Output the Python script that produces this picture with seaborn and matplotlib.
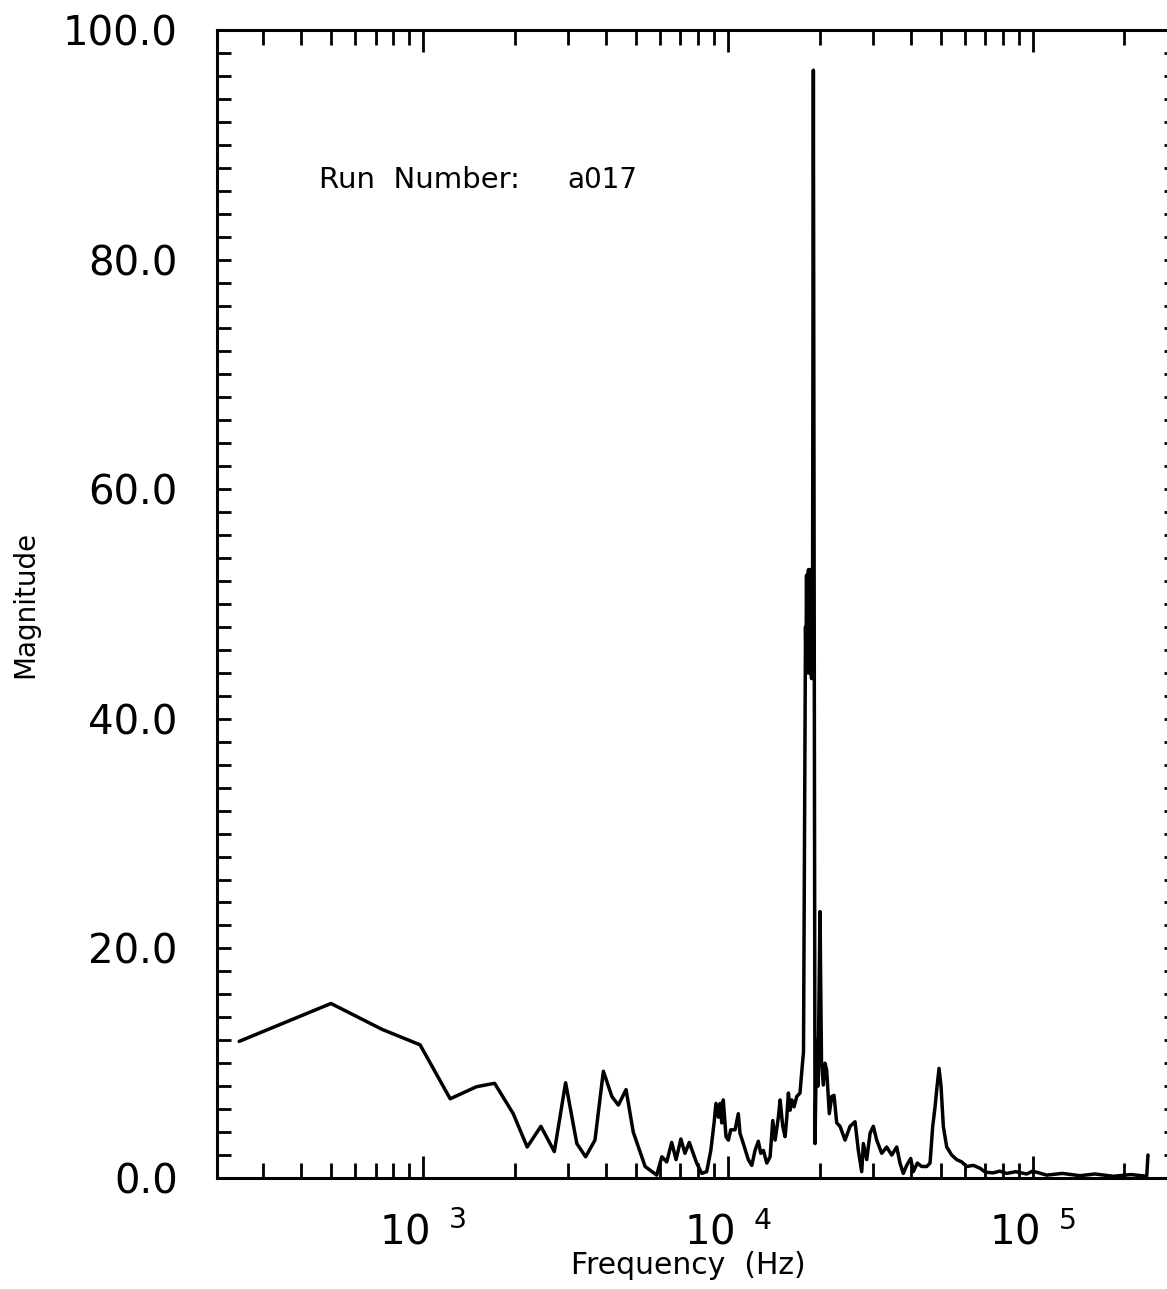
"""
Spectrum magnitude vs frequency (log x), run a017.
"""

import numpy as np
import pandas as pd
import matplotlib
matplotlib.use("Agg")
import matplotlib.pyplot as plt
import seaborn as sns
from matplotlib.ticker import (
    LogLocator, FuncFormatter, MultipleLocator, FormatStrFormatter, NullFormatter,
)

# ── Data ──────────────────────────────────────────────────────────────────────
FREQ_HZ = [
    250, 500, 735, 980, 1230, 1500, 1720, 1980, 2200, 2440,
    2700, 2940, 3200, 3420, 3670, 3910, 4170, 4380, 4640, 4900,
    5360, 5850, 6080, 6310, 6550, 6770, 7020, 7240, 7480, 7910,
    8220, 8530, 8800, 9020, 9150, 9320, 9440, 9560, 9670, 9870,
    10050, 10230, 10570, 10830, 10970, 11250, 11680, 11990, 12290, 12600,
    12830, 13090, 13430, 13770, 14050, 14300, 14660, 14850, 15150, 15420,
    15620, 15810, 16010, 16220, 16500, 16840, 17260, 17390, 17720, 17990,
    18060, 18130, 18200, 18260, 18330, 18400, 18470, 18540, 18610, 18680,
    18750, 18830, 18900, 18970, 19090, 19330, 19550,
    19770, 20070, 20300, 20580, 20840, 21110, 21530, 21930, 22310, 22770,
    23350, 24250, 25180, 26150, 26810, 27500, 27840, 28560, 29290, 30020,
    30800, 31980, 33210, 34490, 35820, 36720, 37640, 38620, 39810, 40600,
    41850, 43260, 44930, 46060, 47010, 47840, 48450, 49300, 50050, 50930,
    52240, 54250, 56340, 58510, 60770, 63870, 67180, 70000, 74270, 78000,
    82170, 88000, 95560, 100000, 111140, 125000, 142950, 160000, 183810, 210000,
    236500, 238800,
]
MAGNITUDE = [
    11.9, 15.2, 12.95, 11.6, 6.9, 7.95, 8.25, 5.6, 2.7, 4.5,
    2.3, 8.3, 3.0, 1.85, 3.3, 9.3, 7.1, 6.35, 7.7, 4.0,
    1.0, 0.25, 1.85, 1.4, 3.1, 1.6, 3.4, 2.15, 3.1, 1.3,
    0.4, 0.55, 2.4, 4.8, 6.5, 5.3, 6.5, 4.8, 6.8, 3.6,
    3.3, 4.2, 4.2, 5.6, 3.9, 3.0, 1.6, 1.1, 2.4, 3.2,
    2.15, 2.4, 1.3, 1.85, 5.0, 3.3, 5.3, 6.8, 4.5, 3.6,
    5.3, 7.4, 5.9, 6.8, 6.2, 7.1, 7.4, 8.5, 11.0, 48.0,
    44.5, 52.5, 45.5, 44.0, 52.0, 53.0, 44.0, 45.0, 53.0, 52.0,
    44.5, 43.5, 51.0, 50.0, 96.5, 3.0, 12.0,
    8.0, 23.2, 10.0, 8.1, 10.0, 9.4, 5.6, 7.1, 7.2, 4.8,
    4.5, 3.3, 4.5, 4.9, 2.4, 0.55, 3.0, 1.6, 3.9, 4.5,
    3.3, 2.15, 2.7, 2.0, 2.7, 1.3, 0.4, 1.1, 1.7, 0.55,
    1.3, 1.0, 1.0, 1.3, 4.5, 6.2, 7.7, 9.55, 8.0, 4.5,
    2.7, 2.0, 1.6, 1.4, 1.0, 1.1, 0.85, 0.5, 0.45, 0.6,
    0.4, 0.55, 0.35, 0.6, 0.25, 0.4, 0.2, 0.35, 0.15, 0.3,
    0.15, 2.0,
]
RUN_LABEL = "Run  Number:"
RUN_ID = "a017"

# ── Figure ─────────────────────────────────────────────────────────────────────
W, H = 1167, 1289
sns.set_style("ticks")
plt.rcParams["font.family"] = ["DejaVu Sans"]
plt.rcParams.update({"text.color": "black", "axes.labelcolor": "black",
                     "xtick.color": "black", "ytick.color": "black"})

fig = plt.figure(figsize=(W / 100, H / 100), dpi=100)
# axes box in pixels: left 216.7, right 1178 (just off the scan), top 30, bottom 1178
ax = fig.add_axes([216.7 / W, (H - 1178) / H, 961.5 / W, 1148 / H])

df = pd.DataFrame({"freq": FREQ_HZ, "mag": MAGNITUDE})
sns.lineplot(data=df, x="freq", y="mag", ax=ax, color="black", lw=2.5,
             estimator=None, sort=False)

ax.set_xscale("log")
ax.set_xlim(211, 3e5)
ax.set_ylim(0, 100)

# x ticks: decades labelled 10^n, minor 2..9
ax.xaxis.set_major_locator(LogLocator(base=10, subs=(1.0,), numticks=10))
ax.xaxis.set_minor_locator(LogLocator(base=10, subs=np.arange(2, 10), numticks=20))
ax.xaxis.set_major_formatter(FuncFormatter(
    lambda v, _: r"$\mathregular{10^{\ \ %d}}$" % round(np.log10(v))))
ax.xaxis.set_minor_formatter(NullFormatter())

ax.yaxis.set_major_locator(MultipleLocator(20))
ax.yaxis.set_minor_locator(MultipleLocator(2))
ax.yaxis.set_major_formatter(FormatStrFormatter("%.1f"))

ax.tick_params(which="both", direction="in", top=True, right=True,
               width=2, color="black", labelcolor="black", labelsize=29)
ax.tick_params(axis="x", which="major", length=16, pad=25)
ax.tick_params(axis="x", which="minor", length=11)
ax.tick_params(axis="y", which="both", length=10, pad=28)

for s in ax.spines.values():
    s.set_visible(True)
    s.set_linewidth(2.2)
    s.set_color("black")

ax.set_xlabel("Frequency  (Hz)", fontsize=21.5, va="center")
ax.xaxis.set_label_coords(0.49, -0.076)
ax.set_ylabel("Magnitude", fontsize=20, va="center")
ax.yaxis.set_label_coords(-0.199, 0.5)

ax.text(0.106, 0.869, RUN_LABEL, transform=ax.transAxes,
        fontsize=21, va="center", ha="left")
ax.text(0.365, 0.869, RUN_ID, transform=ax.transAxes,
        fontsize=20, va="center", ha="left")

fig.savefig("out.png", dpi=100)
plt.close(fig)
